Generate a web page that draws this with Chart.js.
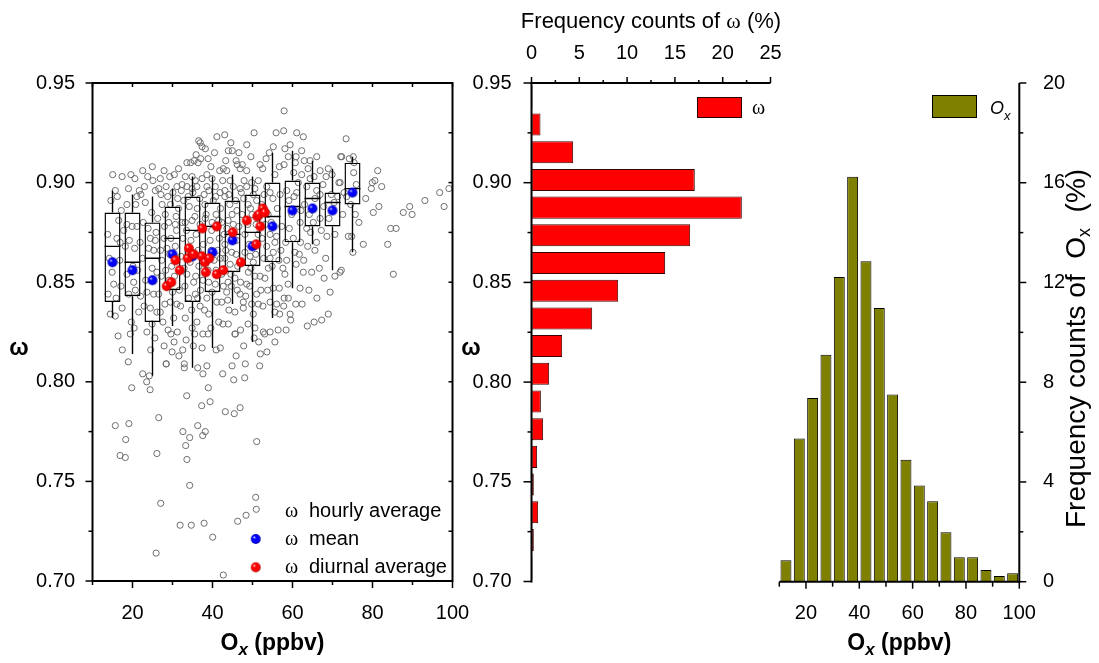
<!DOCTYPE html>
<html><head><meta charset="utf-8">
<script src="https://cdn.jsdelivr.net/npm/chart.js@4.4.1/dist/chart.umd.min.js"></script>
<style>
html,body{margin:0;padding:0;background:#fff;}
#wrap{position:relative;width:1099px;height:663px;overflow:hidden;background:#fff;}
canvas{position:absolute;left:0;top:0;}
</style></head><body>
<div id="wrap">
<canvas id="cL" width="1099" height="663"></canvas>
<canvas id="cM" width="1099" height="663"></canvas>
<canvas id="cR" width="1099" height="663"></canvas>
</div>
<script>
// ---------------- DATA ----------------
// hourly averages [Ox (ppbv), omega]
const hourly = [
[18.95,0.810],[28.45,0.809],[32.95,0.809],[32.95,0.807],[36.3,0.807],[38.6,0.808],[37.6,0.804],[42.55,0.804],[45.3,0.801],[48.05,0.802],[48.2,0.809],[51.8,0.808],[22.55,0.804],[24.2,0.803],[23.55,0.800],[19.8,0.797],[24.4,0.796],[33.55,0.793],[38.95,0.797],[39.4,0.790],[37.3,0.788],[43.2,0.785],[45.45,0.784],[46.9,0.787],[26.55,0.782],[15.7,0.778],[19.1,0.779],[36.3,0.778],[38.2,0.775],[32.6,0.775],[18.3,0.771],[34.3,0.772],[37.55,0.773],[51.05,0.770],[33.3,0.768],[16.9,0.763],[18.2,0.762],[26.1,0.764],[33.6,0.761],[34.3,0.748],[50.8,0.742],[27.05,0.739],[50.95,0.736],[48.4,0.733],[46.3,0.730],[37.9,0.729],[31.9,0.728],[34.7,0.728],[40.05,0.722],[25.9,0.714],[42.7,0.703],
[73.4,0.922],[72.3,0.913],[74.2,0.912],[75.2,0.913],[75.4,0.910],[75.3,0.905],[81.3,0.906],[80.6,0.901],[79.95,0.900],[79.7,0.897],[82.3,0.898],[75.95,0.899],[72.9,0.895],[71.9,0.900],[73.55,0.893],[74.55,0.889],[72.55,0.884],[75.7,0.884],[81.6,0.888],[87.7,0.885],[89.3,0.888],[89.9,0.884],[93.1,0.891],[96.8,0.895],[97.9,0.888],[99.1,0.897],[74.8,0.873],[77.7,0.869],[83.8,0.869],[84.55,0.877],[85.9,0.877],[75.1,0.865],[72.2,0.856],[85.2,0.854],
[15.05,0.904],[17.4,0.903],[19.6,0.904],[22.55,0.906],[23.8,0.903],[24.95,0.908],[26.95,0.902],[29.3,0.903],[30.45,0.904],[15.7,0.896],[21.7,0.896],[22.1,0.894],[21.1,0.893],[18.6,0.889],[23.2,0.890],[25.7,0.896],[26.55,0.897],[27.1,0.894],[28.4,0.898],[36.55,0.921],[36.95,0.920],[37.4,0.918],[38.2,0.917],[41.1,0.923],[34.55,0.910],[35.4,0.911],[36.4,0.910],[37.05,0.912],[39.6,0.908],[41.8,0.906],[33.2,0.903],[34.9,0.903],[35.7,0.901],[37.4,0.902],[38.6,0.904],[39.9,0.902],[31.1,0.898],[32.4,0.899],[33.6,0.898],[34.9,0.897],[36.1,0.898],[38.6,0.898],[40.7,0.898],
[57.9,0.936],[43.05,0.924],[50.4,0.925],[55.9,0.925],[57.8,0.926],[61.05,0.925],[62.7,0.923],[44.6,0.920],[48.55,0.919],[59.4,0.919],[43.95,0.916],[44.95,0.916],[54.2,0.915],[62.3,0.916],[58.95,0.913],[60.9,0.913],[62.95,0.911],[64.4,0.911],[66.05,0.913],[72.05,0.913],[45.9,0.911],[46.2,0.909],[47.45,0.909],[51.9,0.909],[52.55,0.907],[56.7,0.908],[57.9,0.909],[60.7,0.910],[66.9,0.906],[68.4,0.903],[68.95,0.907],[42.7,0.907],[43.55,0.906],[46.9,0.907],[48.55,0.906],[55.6,0.904],[71.6,0.900],[62.3,0.904],[64.4,0.902],[42.55,0.901],[44.4,0.901],[47.9,0.901],[49.8,0.900],[51.45,0.901],[61.45,0.900],[63.55,0.898],[43.1,0.896],[45.2,0.898],[46.9,0.897],[48.55,0.898],[53.55,0.898],[54.4,0.895],[58.55,0.896],[61.05,0.895],[66.05,0.896],[66.9,0.894],[43.1,0.893],[50.2,0.894],[51.05,0.891],
[13.8,0.874],[13.9,0.844],[14.45,0.834],[15.7,0.833],[16.1,0.872],[16.55,0.881],[18.6,0.879],[19.9,0.878],[21.1,0.878],[18.2,0.868],[20.55,0.867],[18.6,0.854],[20.3,0.850],[19.05,0.844],[20.7,0.846],[17.4,0.837],[21.55,0.835],[24.45,0.872],[25.7,0.871],[24.05,0.867],[25.3,0.866],[24.9,0.857],[26.1,0.855],[23.6,0.845],[25.3,0.844],[24.45,0.837],[26.1,0.835],[24.9,0.829],[23.6,0.825],[29.05,0.880],[30.7,0.879],[28.6,0.867],[30.7,0.868],[29.45,0.840],[31.1,0.839],[30.3,0.832],[26.95,0.835],[26.55,0.844],[33.2,0.880],[34.9,0.881],[33.6,0.854],[35.3,0.850],[34.05,0.842],[35.7,0.844],[33.2,0.832],[36.1,0.830],[34.9,0.827],[38.2,0.882],[39.9,0.880],[41.55,0.881],[39.05,0.850],[40.7,0.849],[38.6,0.842],[41.1,0.840],[39.05,0.834],[41.55,0.830],
[42.3,0.880],[43.9,0.881],[45.2,0.879],[43.1,0.869],[44.8,0.865],[43.1,0.862],[44.4,0.859],[42.3,0.854],[43.9,0.850],[45.6,0.852],[43.55,0.845],[42.3,0.840],[48.1,0.865],[49.4,0.863],[50.2,0.860],[48.95,0.855],[50.6,0.853],[48.55,0.849],[51.05,0.844],[47.7,0.840],[49.8,0.839],[54.4,0.874],[53.55,0.868],[55.2,0.865],[54.4,0.862],[55.6,0.870],[53.95,0.857],[51.45,0.839],[51.9,0.853],[50.2,0.834],[55.6,0.835],[56.7,0.847],[55.2,0.847],[54.4,0.840],[56.05,0.839],[58.1,0.854],[57.9,0.842],[58.95,0.842],[58.55,0.861],[60.6,0.865],[61.7,0.864],[62.7,0.855],[64.8,0.855],[61.9,0.847],[59.4,0.834],[65.4,0.830],[68.95,0.834],[70.6,0.853],[71.9,0.855],[73.95,0.873],[70.6,0.874],[61.9,0.880],[63.55,0.877],[65.2,0.880],[66.9,0.882],[46.9,0.844],[47.7,0.837],[45.6,0.835],[43.95,0.829],[45.6,0.824],[50.6,0.827],[52.7,0.825],[54.4,0.825],[59.55,0.831],
[16.4,0.823],[19.45,0.824],[17.45,0.816],[24.55,0.816],[28.4,0.809],[29.6,0.824],[31.2,0.825],[30.4,0.820],[31.6,0.813],[32.55,0.816],[35.55,0.824],[37.6,0.824],[38.9,0.824],[37.4,0.817],[40.9,0.816],[41.95,0.817],[45.7,0.824],[47.8,0.818],[45.9,0.813],[51.55,0.820],[51.95,0.814],[53.6,0.815],[53.05,0.824],
[29.5,0.889],[31.5,0.887],[32.8,0.891],[34.2,0.888],[36.8,0.892],[38.1,0.889],[40.2,0.891],[42.0,0.887],[44.3,0.889],[46.1,0.886],[47.8,0.892],[49.5,0.887],[52.3,0.889],[53.9,0.884],[56.2,0.887],[28.2,0.884],[31.0,0.876],[32.6,0.872],[35.9,0.874],[37.7,0.869],[39.4,0.871],[41.3,0.866],[42.9,0.874],[46.6,0.878],[48.1,0.874],[50.9,0.879],[52.4,0.872],[57.3,0.878],[59.8,0.884],[63.0,0.889],[65.6,0.892],[67.8,0.888],[69.7,0.894],[27.3,0.861],[29.8,0.858],[32.1,0.863],[36.6,0.858],[38.9,0.856],[40.4,0.861],[46.3,0.858],[49.1,0.869],[52.8,0.862],[57.1,0.866],[60.2,0.872],[63.8,0.868],[67.2,0.876],[69.1,0.882],[17.2,0.886],[20.8,0.889],[14.9,0.855],[16.8,0.861],[22.5,0.862],[27.9,0.872],[29.1,0.851],[31.7,0.846],[37.0,0.846],[42.4,0.856],[44.7,0.848],[52.1,0.846],[57.6,0.857],[64.1,0.846],[27.6,0.830],[28.9,0.826],[36.9,0.838],[44.1,0.836],[48.9,0.829],[56.4,0.826],[60.8,0.839],[22.9,0.838],[19.7,0.830],[35.2,0.818],[44.9,0.808],[29.9,0.815],
[14.2,0.862],[15.3,0.849],[16.9,0.870],[17.8,0.876],[19.2,0.871],[20.1,0.858],[21.9,0.870],[22.7,0.880],[23.9,0.877],[24.8,0.885],[26.3,0.882],[27.4,0.889],[28.8,0.893],[30.1,0.895],[31.3,0.892],[32.2,0.896],[33.9,0.893],[35.1,0.895],[36.2,0.887],[37.9,0.894],[39.1,0.896],[40.8,0.893],[41.9,0.895],[44.1,0.894],[45.8,0.891],[47.2,0.895],[48.9,0.889],[50.6,0.897],[52.9,0.894],[55.1,0.892],[56.9,0.894],[59.1,0.891],[60.4,0.893],[62.1,0.886],[64.2,0.884],[25.9,0.875],[27.0,0.866],[28.0,0.878],[29.6,0.872],[30.9,0.883],[32.3,0.880],[33.5,0.876],[34.6,0.871],[35.6,0.883],[36.9,0.879],[38.4,0.884],[39.8,0.876],[40.9,0.884],[41.7,0.872],[43.6,0.877],[44.9,0.884],[46.0,0.871],[47.4,0.884],[48.8,0.879],[49.9,0.884],[51.4,0.874],[53.2,0.879],[54.7,0.880],[56.0,0.873],[58.3,0.870],[59.2,0.877],[27.2,0.853],[28.3,0.856],[29.3,0.864],[30.5,0.853],[32.9,0.857],[34.4,0.860],[35.8,0.853],[36.4,0.866],[37.6,0.851],[39.7,0.866],[40.9,0.856],[42.0,0.862],[43.3,0.866],[44.6,0.854],[45.9,0.864],[47.0,0.850],[49.6,0.857],[50.8,0.864],[53.1,0.852],[54.9,0.858],[56.6,0.861],[58.9,0.849],[60.9,0.859],[62.8,0.861],[65.6,0.866],[66.7,0.857],[68.3,0.862],[28.1,0.839],[30.0,0.845],[32.0,0.838],[33.1,0.848],[34.8,0.836],[36.3,0.842],[38.0,0.836],[39.9,0.845],[42.7,0.848],[43.8,0.841],[46.2,0.846],[48.3,0.843],[49.3,0.848],[52.6,0.838],[53.8,0.846],[56.8,0.834],[57.8,0.838],[62.4,0.839],[66.1,0.842],[23.3,0.851],[21.3,0.856],[17.1,0.848],[15.9,0.842],[22.0,0.843],[20.4,0.827],[25.6,0.822],[27.9,0.818],[33.4,0.821],[39.6,0.827],[42.6,0.829],[47.0,0.826],[50.4,0.822],[55.6,0.820],[58.4,0.826],[63.7,0.828],[67.3,0.831],[14.6,0.891],[16.2,0.893],[19.0,0.897],[20.6,0.902],[23.0,0.898],[25.1,0.901],[27.9,0.906],[31.5,0.907],[33.6,0.910],[35.9,0.914],[38.9,0.912],[40.5,0.915],[43.3,0.911],[46.6,0.915],[49.6,0.913],[53.4,0.912],[55.2,0.918],[58.1,0.917],[60.3,0.905],[63.9,0.907],[65.4,0.903],[67.6,0.899],[69.9,0.904],[70.4,0.890],[71.3,0.893],[68.6,0.873],[66.0,0.870],[64.5,0.875],[62.0,0.870],[67.9,0.852],[69.4,0.845],[76.6,0.880],[78.3,0.892],[80.2,0.885]
];
// box plots per Ox class
const boxCenters = [15,20,25,30,35,40,45,50,55,60,65,70,75];
const boxQ1  = [0.840,0.843,0.830,0.846,0.840,0.845,0.855,0.858,0.860,0.870,0.878,0.878,0.889];
const boxQ3  = [0.885,0.885,0.880,0.888,0.893,0.890,0.891,0.894,0.900,0.901,0.900,0.895,0.910];
const boxMed = [0.868,0.860,0.862,0.872,0.876,0.878,0.874,0.875,0.883,0.888,0.892,0.890,0.897];
const boxLo  = [0.832,0.814,0.803,0.828,0.807,0.817,0.839,0.820,0.832,0.847,0.869,0.856,0.865];
const boxHi  = [0.896,0.894,0.893,0.897,0.903,0.903,0.904,0.903,0.915,0.916,0.911,0.907,0.913];
const boxMean= [0.860,0.856,0.851,0.864,0.863,0.865,0.871,0.868,0.878,0.886,0.887,0.886,0.895];
// diurnal averages [Ox, omega]
const diurnal = [[28.55,0.848],[29.7,0.850],[30.75,0.861],[31.8,0.856],[34.1,0.867],[33.8,0.862],[35.3,0.864],[37.3,0.863],[37.45,0.877],[38.1,0.860],[39.2,0.862],[38.3,0.855],[41.05,0.878],[41.05,0.854],[42.7,0.856],[45.05,0.875],[47.1,0.860],[48.55,0.881],[50.95,0.869],[51.2,0.883],[51.95,0.878],[52.55,0.887],[51.6,0.884],[53.1,0.885]];
// omega frequency histogram
const omegaBins = [0.9431,0.9292,0.9153,0.9014,0.8875,0.8736,0.8597,0.8458,0.8319,0.8181,0.8042,0.7903,0.7764,0.7625,0.7486,0.7347,0.7208,0.7069];
const omegaFreq = [0.1,0.94,4.36,17.08,22.0,16.6,13.98,9.07,6.35,3.21,1.85,0.98,1.22,0.59,0.24,0.70,0.24,0.1];
// Ox frequency histogram
const oxBins = [12.5,17.5,22.5,27.5,32.5,37.5,42.5,47.5,52.5,57.5,62.5,67.5,72.5,77.5,82.5,87.5,92.5,97.5];
const oxFreq = [0.86,5.74,7.37,9.1,12.22,16.24,12.85,10.98,7.51,4.89,3.86,3.23,1.98,0.98,0.98,0.47,0.23,0.34];
// tick labels
const omegaTicks = [0.70,0.75,0.80,0.85,0.90,0.95];
const oxTicks = [20,40,60,80,100];
const freqOmegaTicks = [0,5,10,15,20,25];
const freqOxTicks = [0,4,8,12,16,20];

// ---------------- HELPERS ----------------
const SANS = '"Liberation Sans", Arial, sans-serif';
const SERIF = '"Liberation Serif", "Times New Roman", serif';
Chart.defaults.font.family = SANS;
Chart.defaults.font.size = 20;
Chart.defaults.color = '#000';

function makeBall(base, dark) {
  const s = 12, r = 4.9;
  const c = document.createElement('canvas'); c.width = s; c.height = s;
  const g = c.getContext('2d');
  const grd = g.createRadialGradient(s/2-1.8, s/2-1.9, 0.2, s/2, s/2, r);
  grd.addColorStop(0, '#ffffff'); grd.addColorStop(0.28, base);
  grd.addColorStop(0.8, base); grd.addColorStop(1, dark);
  g.fillStyle = grd; g.beginPath(); g.arc(s/2, s/2, r, 0, Math.PI*2); g.fill();
  return c;
}
const blueBall = makeBall('#0000ff', '#00008a');
const redBall = makeBall('#ff0000', '#a00000');

function rich(ctx, parts, x, y, align, rot) {
  ctx.save(); ctx.translate(x, y); if (rot) ctx.rotate(rot);
  ctx.textBaseline = 'alphabetic'; ctx.textAlign = 'left'; ctx.fillStyle = '#000';
  let w = 0; parts.forEach(p => { ctx.font = p[1]; w += ctx.measureText(p[0]).width; });
  let cx = align === 'center' ? -w/2 : (align === 'right' ? -w : 0);
  parts.forEach(p => { ctx.font = p[1]; ctx.fillText(p[0], cx, p[2] || 0); cx += ctx.measureText(p[0]).width; });
  ctx.restore();
}
function seg(ctx, x1, y1, x2, y2) { ctx.beginPath(); ctx.moveTo(x1, y1); ctx.lineTo(x2, y2); ctx.stroke(); }

const tickCb = (list, fmt) => (v) => {
  const hit = list.find(t => Math.abs(t - v) < 1e-6);
  return hit === undefined ? '' : fmt(hit);
};

// ---------------- LEFT PANEL ----------------
const boxBars = boxCenters.map((c, i) => ({x: c, y: [boxQ1[i], boxQ3[i]]}));
const medLines = [];
boxCenters.forEach((c, i) => { medLines.push({x: c-2, y: boxMed[i]}, {x: c+2, y: boxMed[i]}, {x: c, y: null}); });
const whiskers = [];
boxCenters.forEach((c, i) => {
  whiskers.push({x: c, y: boxLo[i]}, {x: c, y: boxQ1[i]}, {x: c, y: null},
                {x: c, y: boxQ3[i]}, {x: c, y: boxHi[i]}, {x: c, y: null});
});

const leftDeco = {
  id: 'leftDeco',
  afterDraw(chart) {
    const {ctx, chartArea: a, scales: {x, y}} = chart;
    ctx.save(); ctx.strokeStyle = '#000';
    ctx.lineWidth = 1.5;
    for (let v = 10; v <= 100; v += 10) {
      const px = x.getPixelForValue(v);
      const major = v % 20 === 0;
      seg(ctx, px, a.bottom, px, a.bottom + (major ? 7 : 4));
      seg(ctx, px, a.top, px, a.top + 4);
    }
    for (let k = 0; k <= 10; k++) {
      const py = y.getPixelForValue(0.70 + k*0.025);
      const major = k % 2 === 0;
      seg(ctx, a.left, py, a.left - (major ? 7 : 4), py);
      seg(ctx, a.right, py, a.right - 4, py);
    }
    ctx.lineWidth = 2;
    ctx.strokeRect(a.left, a.top, a.right - a.left, a.bottom - a.top);
    // legend
    ctx.drawImage(blueBall, 255.7 - 6, 539 - 6);
    ctx.drawImage(redBall, 255.7 - 6, 567.3 - 6);
    const f = '20px ' + SANS, fw = '20px ' + SERIF;
    rich(ctx, [['ω', fw]], 285, 517, 'left');
    rich(ctx, [['hourly average', f]], 309, 517, 'left');
    rich(ctx, [['ω', fw]], 285, 545, 'left');
    rich(ctx, [['mean', f]], 309, 545, 'left');
    rich(ctx, [['ω', fw]], 285, 573, 'left');
    rich(ctx, [['diurnal average', f]], 309, 573, 'left');
    // axis titles
    rich(ctx, [['O', 'bold 23px ' + SANS], ['x', 'italic bold 17px ' + SANS, 5], [' (ppbv)', 'bold 23px ' + SANS]],
         (a.left + a.right)/2, 650, 'center');
    rich(ctx, [['ω', 'bold 23px ' + SANS]], 19, 355, 'center');
    ctx.restore();
  }
};

new Chart(document.getElementById('cL'), {
  type: 'scatter',
  data: {
    datasets: [
      {type: 'scatter', label: 'ω diurnal average', data: diurnal.map(p => ({x: p[0], y: p[1]})),
       pointStyle: redBall, pointRadius: 5, order: 0},
      {type: 'scatter', label: 'ω mean', data: boxCenters.map((c, i) => ({x: c, y: boxMean[i]})),
       pointStyle: blueBall, pointRadius: 5, order: 1},
      {type: 'line', label: 'whiskers', data: whiskers, borderColor: '#000', borderWidth: 1.4,
       pointRadius: 0, spanGaps: false, fill: false, tension: 0, order: 2},
      {type: 'line', label: 'median', data: medLines, borderColor: '#000', borderWidth: 1.4,
       pointRadius: 0, spanGaps: false, fill: false, tension: 0, order: 3},
      {type: 'bar', label: 'box', data: boxBars, backgroundColor: 'rgba(0,0,0,0)', borderColor: '#000',
       borderWidth: 1.4, borderSkipped: false, barPercentage: 0.8, categoryPercentage: 1, grouped: false, order: 4},
      {type: 'scatter', label: 'ω hourly average', data: hourly.map(p => ({x: p[0], y: p[1]})),
       pointStyle: 'circle', pointRadius: 3.1, borderWidth: 1, borderColor: '#6e6e6e',
       backgroundColor: 'rgba(255,255,255,0)', order: 5}
    ]
  },
  options: {
    responsive: false, animation: false, devicePixelRatio: 1,
    layout: {padding: {left: 0, top: 83, right: 646.5, bottom: 0}},
    plugins: {legend: {display: false}, tooltip: {enabled: false}},
    scales: {
      x: {type: 'linear', position: 'bottom', min: 10, max: 100, offset: false,
          grid: {display: false}, border: {display: false},
          ticks: {stepSize: 20, includeBounds: false, padding: 12, autoSkip: false, maxRotation: 0,
                  callback: tickCb(oxTicks, v => String(v))},
          afterFit(s) { s.height = 82; }},
      y: {type: 'linear', position: 'left', min: 0.70, max: 0.95,
          grid: {display: false}, border: {display: false},
          ticks: {stepSize: 0.05, padding: 9.5, autoSkip: false,
                  callback: tickCb(omegaTicks, v => v.toFixed(2))},
          afterFit(s) { s.width = 92.5; }}
    }
  },
  plugins: [leftDeco]
});

// ---------------- MIDDLE (omega histogram) ----------------
const midDeco = {
  id: 'midDeco',
  afterDraw(chart) {
    const {ctx, chartArea: a, scales: {x, y}} = chart;
    ctx.save(); ctx.strokeStyle = '#000';
    ctx.lineWidth = 1.5;
    for (let k = 0; k <= 10; k++) {
      const px = x.getPixelForValue(k*2.5);
      seg(ctx, px, a.top, px, a.top - (k % 2 === 0 ? 6 : 3));
      const py = y.getPixelForValue(0.70 + k*0.025);
      seg(ctx, a.left, py, a.left - (k % 2 === 0 ? 8 : 4), py);
    }
    ctx.lineWidth = 2;
    seg(ctx, a.left, a.top, a.left, a.bottom + 1);
    seg(ctx, a.left - 1, a.top, a.right, a.top);
    // legend
    ctx.fillStyle = '#ff0000'; ctx.fillRect(697, 97, 45, 21);
    ctx.lineWidth = 1; ctx.strokeStyle = '#300000'; ctx.strokeRect(697.5, 97.5, 44, 20);
    rich(ctx, [['ω', '20px ' + SERIF]], 752, 114, 'left');
    // titles
    rich(ctx, [['Frequency counts of ', '22px ' + SANS], ['ω', '22px ' + SERIF], [' (%)', '22px ' + SANS]],
         (a.left + a.right)/2, 28, 'center');
    rich(ctx, [['ω', 'bold 23px ' + SANS]], 471, 355, 'center');
    ctx.restore();
  }
};

new Chart(document.getElementById('cM'), {
  type: 'bar',
  data: {
    datasets: [{label: 'ω', data: omegaBins.map((c, i) => ({x: omegaFreq[i], y: c})),
      backgroundColor: '#ff0000', borderColor: '#3a0000', borderWidth: 1, borderSkipped: false,
      barPercentage: 0.8, categoryPercentage: 1}]
  },
  options: {
    indexAxis: 'y',
    responsive: false, animation: false, devicePixelRatio: 1,
    layout: {padding: {left: 0, top: 0, right: 328.5, bottom: 81.5}},
    plugins: {legend: {display: false}, tooltip: {enabled: false}},
    scales: {
      x: {type: 'linear', position: 'top', min: 0, max: 25, offset: false,
          grid: {display: false}, border: {display: false},
          ticks: {stepSize: 5, padding: 10, autoSkip: false, maxRotation: 0,
                  callback: tickCb(freqOmegaTicks, v => String(v))},
          afterFit(s) { s.height = 83; }},
      y: {type: 'linear', position: 'left', min: 0.70, max: 0.95, offset: false,
          grid: {display: false}, border: {display: false},
          ticks: {stepSize: 0.05, padding: 12, autoSkip: false,
                  callback: tickCb(omegaTicks, v => v.toFixed(2))},
          afterFit(s) { s.width = 531.5; }}
    }
  },
  plugins: [midDeco]
});

// ---------------- RIGHT (Ox histogram) ----------------
const rightDeco = {
  id: 'rightDeco',
  afterDraw(chart) {
    const {ctx, chartArea: a, scales: {x, y}} = chart;
    ctx.save(); ctx.strokeStyle = '#000';
    ctx.lineWidth = 1.5;
    for (let v = 10; v <= 100; v += 10) {
      const px = x.getPixelForValue(v);
      seg(ctx, px, a.bottom, px, a.bottom + (v % 20 === 0 ? 7 : 5));
    }
    for (let v = 0; v <= 20; v += 2) {
      const py = y.getPixelForValue(v);
      seg(ctx, a.right, py, a.right + (v % 4 === 0 ? 7 : 4), py);
    }
    ctx.lineWidth = 2;
    seg(ctx, a.left, a.bottom, a.right + 1, a.bottom);
    seg(ctx, a.right, a.top, a.right, a.bottom + 1);
    // legend
    ctx.fillStyle = '#808000'; ctx.fillRect(932, 95, 45, 23);
    ctx.lineWidth = 1; ctx.strokeStyle = '#000'; ctx.strokeRect(932.5, 95.5, 44, 22);
    rich(ctx, [['O', 'italic 18px ' + SANS], ['x', 'italic 13px ' + SANS, 6]], 990, 114, 'left');
    // titles
    rich(ctx, [['O', 'bold 23px ' + SANS], ['x', 'italic bold 17px ' + SANS, 5], [' (ppbv)', 'bold 23px ' + SANS]],
         (a.left + a.right)/2, 650, 'center');
    rich(ctx, [['Frequency counts of  O', '28px ' + SANS], ['x', '18px ' + SANS, 5], ['  (%)', '28px ' + SANS]],
         1085, 528, 'left', -Math.PI/2);
    ctx.restore();
  }
};

new Chart(document.getElementById('cR'), {
  type: 'bar',
  data: {
    datasets: [{label: 'Ox', data: oxBins.map((c, i) => ({x: c, y: oxFreq[i]})),
      backgroundColor: '#808000', borderColor: '#000', borderWidth: 1, borderSkipped: 'start',
      barPercentage: 0.82, categoryPercentage: 1}]
  },
  options: {
    responsive: false, animation: false, devicePixelRatio: 1,
    layout: {padding: {left: 779.3, top: 83, right: 0, bottom: 0}},
    plugins: {legend: {display: false}, tooltip: {enabled: false}},
    scales: {
      x: {type: 'linear', position: 'bottom', min: 10, max: 100, offset: false,
          grid: {display: false}, border: {display: false},
          ticks: {stepSize: 20, includeBounds: false, padding: 12, autoSkip: false, maxRotation: 0,
                  callback: tickCb(oxTicks, v => String(v))},
          afterFit(s) { s.height = 81.3; }},
      y: {type: 'linear', position: 'right', min: 0, max: 20,
          grid: {display: false}, border: {display: false},
          ticks: {stepSize: 4, padding: 15.7, autoSkip: false,
                  callback: tickCb(freqOxTicks, v => String(v))},
          afterFit(s) { s.width = 79.7; }}
    }
  },
  plugins: [rightDeco]
});
</script>
</body></html>
